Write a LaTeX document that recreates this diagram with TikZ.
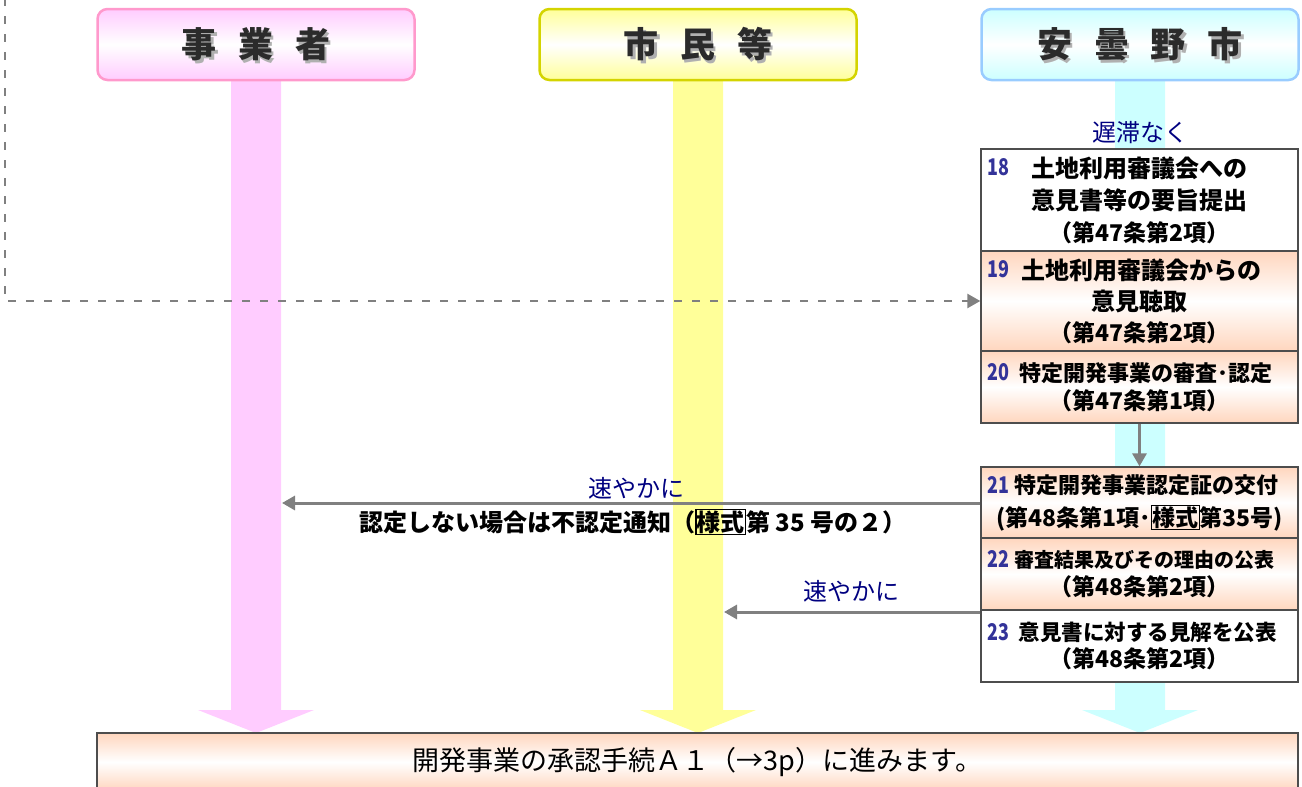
\documentclass[tikz,border=0pt]{standalone}
\usepackage{fontspec}
\usepackage{graphicx}
\setmainfont{Noto Sans CJK JP}
\usetikzlibrary{arrows.meta}
\definecolor{pinkS}{HTML}{FFCCFF}
\definecolor{yelS}{HTML}{FFFF99}
\definecolor{cyanS}{HTML}{CCFFFF}
\definecolor{pinkB}{HTML}{FF99CC}
\definecolor{yelB}{HTML}{D4D400}
\definecolor{cyanB}{HTML}{99CCFF}
\definecolor{peach}{HTML}{FFD6BE}
\definecolor{navy}{HTML}{000080}
\definecolor{numc}{HTML}{333399}
\definecolor{arr}{HTML}{808080}
\definecolor{boxline}{HTML}{4D4D4D}
\definecolor{hdtxt}{HTML}{2B2B2B}
\definecolor{hdsh}{HTML}{B0B0B0}
\newcommand\yb[1]{{\setlength\fboxsep{0.3pt}\setlength\fboxrule{1.2pt}\fbox{#1}}}
\newcommand\artl[1]{{\fontsize{23}{30}\bfseries\selectfont #1}}
\newcommand\nm[1]{\scalebox{0.78}[1]{#1}}
\tikzset{
  hdr/.style={draw, line width=2.5pt, rounded corners=10pt, minimum width=317pt, minimum height=71pt, inner sep=0pt},
  hdrtext/.style={font=\fontsize{35}{35}\bfseries\selectfont, text=hdtxt, inner sep=0pt},
  hdrshadow/.style={font=\fontsize{35}{35}\bfseries\selectfont, text=hdsh, inner sep=0pt},
  stepbox/.style={draw=boxline, line width=1.3pt, minimum width=317pt, inner sep=0pt, align=center},
  warm/.style={top color=peach, bottom color=peach, middle color=white},
  num/.style={font=\fontsize{23}{23}\bfseries\selectfont, text=numc, inner sep=0pt, anchor=west},
  lbl/.style={font=\fontsize{24}{24}\selectfont, text=navy, inner sep=0pt},
  note/.style={font=\fontsize{24}{24}\bfseries\selectfont, inner sep=0pt},
  conn/.style={draw=arr, line width=3pt, -{Triangle[length=13pt,width=14pt]}},
  dconn/.style={draw=arr, line width=2.5pt, dash pattern=on 8pt off 10pt, -{Triangle[length=13pt,width=14pt]}}
}
\begin{document}
\begin{tikzpicture}[x=1pt,y=-1pt]
\useasboundingbox (0,0) rectangle (1302,787);
% lanes
\fill[pinkS] (231,80) -- (281,80) -- (281,710) -- (314,710) -- (256,733) -- (198,710) -- (231,710) -- cycle;
\fill[yelS] (673,80) -- (723,80) -- (723,710) -- (756,710) -- (698,733) -- (640,710) -- (673,710) -- cycle;
\fill[cyanS] (1115,80) -- (1165,80) -- (1165,710) -- (1198,710) -- (1140,733) -- (1082,710) -- (1115,710) -- cycle;
% headers
\node[hdr, draw=pinkB, top color=pinkS, bottom color=pinkS, middle color=white] (h1) at (256,44.5) {};
\node[hdr, draw=yelB, top color=yelS, bottom color=yelS, middle color=white] (h2) at (698,44.5) {};
\node[hdr, draw=cyanB, top color=cyanS, bottom color=cyanS, middle color=white] (h3) at (1140,44.5) {};
\node[hdrshadow] (h1s) at (258.5,47) {事\hspace{0.62em}業\hspace{0.62em}者};
\node[hdrtext] (h1t) at (h1) {事\hspace{0.62em}業\hspace{0.62em}者};
\node[hdrshadow] (h2s) at (700.5,47) {市\hspace{0.62em}民\hspace{0.62em}等};
\node[hdrtext] (h2t) at (h2) {市\hspace{0.62em}民\hspace{0.62em}等};
\node[hdrshadow] (h3s) at (1142.5,47) {安\hspace{0.62em}曇\hspace{0.62em}野\hspace{0.62em}市};
\node[hdrtext] (h3t) at (h3) {安\hspace{0.62em}曇\hspace{0.62em}野\hspace{0.62em}市};
% steps
\node[stepbox, fill=white, minimum height=102pt, font=\fontsize{24}{32}\bfseries\selectfont] (b18) at (1139.5,200) {土地利用審議会への\\意見書等の要旨提出\\\artl{（第47条第2項）}};
\node[stepbox, warm, minimum height=100pt, font=\fontsize{24}{31}\bfseries\selectfont] (b19) at (1139.5,301) {\hspace*{4pt}土地利用審議会からの\\意見聴取\\\artl{（第47条第2項）}};
\node[stepbox, warm, minimum height=72pt, font=\fontsize{22}{28}\bfseries\selectfont] (b20) at (1139.5,387) {\hspace*{12pt}特定開発事業の審査･認定\\\artl{（第47条第1項）}};
\node[stepbox, warm, minimum height=71pt, font=\fontsize{22}{33}\bfseries\selectfont] (b21) at (1139.5,502.5) {\hspace*{14pt}特定開発事業認定証の交付\\{\fontsize{23}{30}\selectfont (第48条第1項･\yb{様式}第35号)}};
\node[stepbox, warm, minimum height=72pt, font=\fontsize{20}{28}\bfseries\selectfont] (b22) at (1139.5,574) {\hspace*{10pt}審査結果及びその理由の公表\\\artl{（第48条第2項）}};
\node[stepbox, fill=white, minimum height=72pt, font=\fontsize{21.5}{27}\bfseries\selectfont] (b23) at (1139.5,646) {\hspace*{16pt}意見書に対する見解を公表\\\artl{（第48条第2項）}};
% numbers
\node[num] (n18) at (987,167) {\nm{18}};
\node[num] (n19) at (987,269) {\nm{19}};
\node[num] (n20) at (987,372) {\nm{20}};
\node[num] (n21) at (987,485) {\nm{21}};
\node[num] (n22) at (987,559) {\nm{22}};
\node[num] (n23) at (987,632) {\nm{23}};
% labels
\node[lbl] (l0) at (1140,133) {遅滞なく};
\node[lbl] (l1) at (636,488) {速やかに};
\node[lbl] (l2) at (851,591) {速やかに};
\node[note] (nt) at (633,522) {認定しない場合は不認定通知（\yb{様式}第 35 号の２）};
% bottom
\node[draw=boxline, line width=1.3pt, top color=peach, bottom color=peach, middle color=white, minimum width=1201pt, minimum height=58pt, inner sep=0pt, font=\fontsize{27}{27}\selectfont] (bt) at (697.5,762) {開発事業の承認手続Ａ１（→3p）に進みます。};
% connectors
\coordinate (dtop) at (5,-2);
\coordinate (e1) at (282,503);
\coordinate (e2) at (724,612);
\draw[dconn] (dtop) |- (b19.west);
\draw[conn] (b20.south) -- (b21.north);
\draw[conn] (b21.west |- e1) -- (e1);
\draw[conn] (b23.north west |- e2) -- (e2);
\end{tikzpicture}
\end{document}
